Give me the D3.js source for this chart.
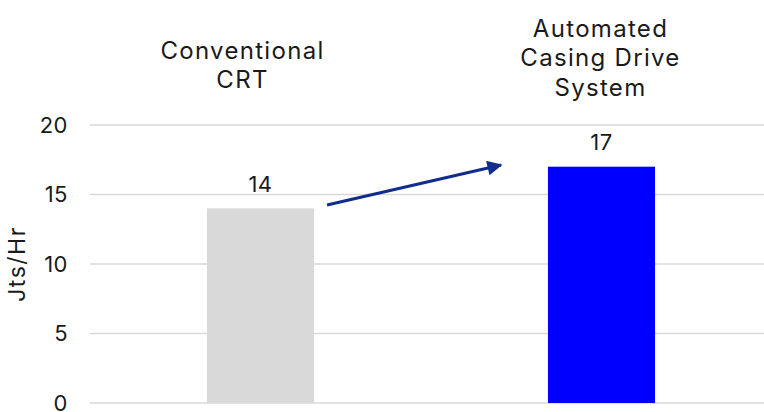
<!DOCTYPE html>
<html lang="en">
<head>
<meta charset="UTF-8">
<title>Jts/Hr comparison</title>
<script src="https://d3js.org/d3.v7.min.js"></script>
<style>
    body { margin: 0; background: #fff; font-family: Inter, Arial, sans-serif; }
    .grid line { stroke: #d9d9d9; stroke-width: 1.6; }
    .tick-label, .value-label, .cat-label, .axis-title { fill: #1a1a1a; }
</style>
</head>
<body>
<svg width="764" height="412"></svg>
<script>
    const categories = [["Conventional", "CRT"], ["Automated", "Casing Drive", "System"]];
    const values = [14, 17];
    const barColors = ["#d9d9d9", "#0000ff"];
    const yTicks = [0, 5, 10, 15, 20];

    const svg = d3.select("svg");
    const plotLeft = 90, plotRight = 764, plotTop = 125, plotBottom = 403;

    const x = d3.scaleBand()
        .domain(d3.range(values.length))
        .range([plotLeft, 772])
        .paddingInner(0.686)
        .paddingOuter(0.343);

    const y = d3.scaleLinear().domain([0, 20]).range([plotBottom, plotTop]);

    // gridlines
    svg.append("g")
       .attr("class", "grid")
       .selectAll("line")
       .data(yTicks)
       .join("line")
       .attr("x1", plotLeft).attr("x2", plotRight)
       .attr("y1", d => y(d)).attr("y2", d => y(d));

    // tick labels
    svg.append("g")
       .selectAll("text")
       .data(yTicks)
       .join("text")
       .attr("class", "tick-label")
       .attr("x", 68)
       .attr("y", d => y(d))
       .attr("dy", "0.36em")
       .attr("text-anchor", "end")
       .style("font-size", "22px")
       .style("letter-spacing", "0.5px")
       .text(d => d);

    svg.append("text")
       .attr("class", "axis-title")
       .attr("transform", `translate(25,${y(10)}) rotate(-90)`)
       .attr("text-anchor", "middle")
       .style("font-size", "23px")
       .style("letter-spacing", "1.5px")
       .text("Jts/Hr");

    // bars
    svg.append("g")
       .selectAll("rect")
       .data(values)
       .join("rect")
       .attr("x", (d, i) => x(i))
       .attr("width", x.bandwidth())
       .attr("y", d => y(d))
       .attr("height", d => y(0) - y(d))
       .attr("fill", (d, i) => barColors[i]);

    // value labels
    svg.append("g")
       .selectAll("text")
       .data(values)
       .join("text")
       .attr("class", "value-label")
       .attr("x", (d, i) => x(i) + x.bandwidth() / 2)
       .attr("y", d => y(d) - 24.5)
       .attr("dy", "0.36em")
       .attr("text-anchor", "middle")
       .style("font-size", "22px")
       .style("letter-spacing", "0.5px")
       .text(d => d);

    // category labels above the bars
    const labelShift = [-18, -1];
    const firstBaseline = [58.5, 36.5];
    categories.forEach((lines, i) => {
        const cx = x(i) + x.bandwidth() / 2 + labelShift[i];
        const t = svg.append("text")
            .attr("class", "cat-label")
            .attr("text-anchor", "middle")
            .style("font-size", "24px")
            .style("letter-spacing", "1.3px");
        lines.forEach((ln, j) => {
            t.append("tspan")
             .attr("x", cx)
             .attr("y", firstBaseline[i] + j * 29.5)
             .text(ln);
        });
    });

    // arrow
    svg.append("defs").append("marker")
       .attr("id", "head")
       .attr("viewBox", "0 0 10 10")
       .attr("refX", 9).attr("refY", 5)
       .attr("markerWidth", 17).attr("markerHeight", 15)
       .attr("markerUnits", "userSpaceOnUse")
       .attr("orient", "auto")
       .append("path")
       .attr("d", "M0,0 L10,5 L0,10 Z")
       .attr("fill", "#102c8c");

    svg.append("line")
       .attr("x1", x(0) + x.bandwidth() + 13)
       .attr("y1", y(14.24))
       .attr("x2", x(1) - 47)
       .attr("y2", y(17.12))
       .attr("stroke", "#102c8c")
       .attr("stroke-width", 3)
       .attr("marker-end", "url(#head)");
</script>
</body>
</html>
